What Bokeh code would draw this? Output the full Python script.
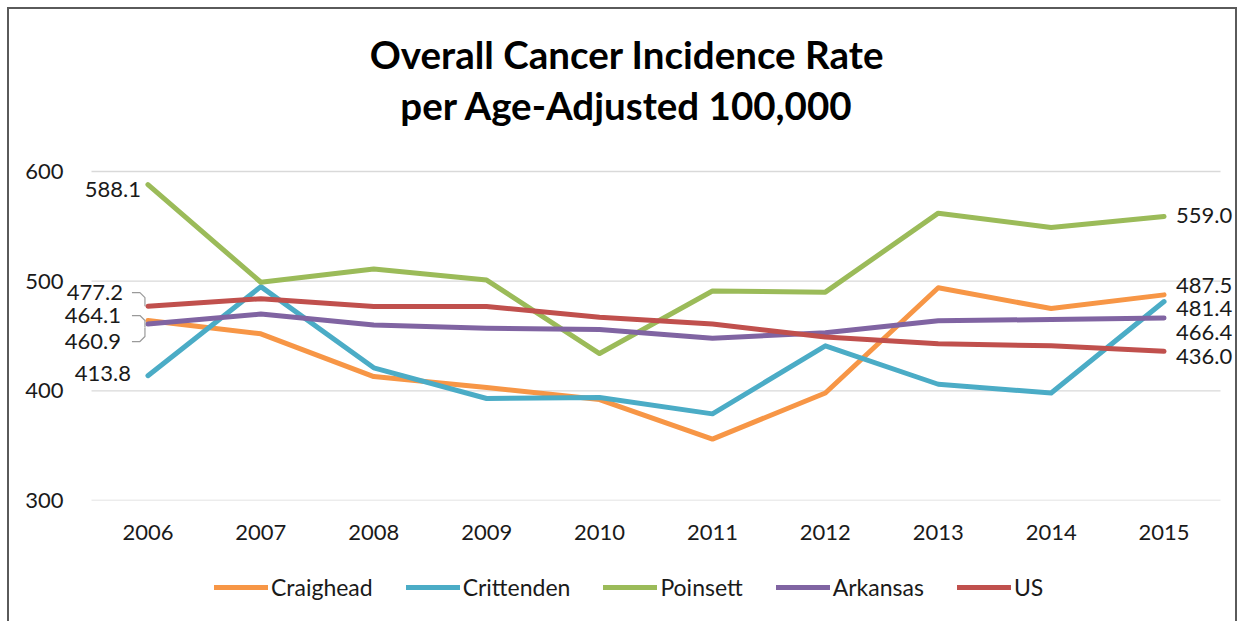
from bokeh.plotting import figure
from bokeh.layouts import column
from bokeh.models import Range1d, FixedTicker, Legend, LegendItem, ColumnDataSource
from bokeh.embed import file_html
from bokeh.resources import INLINE
from bokeh.core.properties import value

# ---- data ----
years = [2006, 2007, 2008, 2009, 2010, 2011, 2012, 2013, 2014, 2015]
craighead = [464.1, 452, 413, 403, 392, 356, 398, 494, 475, 487.5]
crittenden = [413.8, 495, 421, 393, 394, 379, 441, 406, 398, 481.4]
poinsett = [588.1, 499, 511, 501, 434, 491, 490, 562, 549, 559.0]
arkansas = [460.9, 470, 460, 457, 456, 448, 453, 464, 465, 466.4]
us = [477.2, 484, 477, 477, 467, 461, 449, 443, 441, 436.0]
series_names = ["Craighead", "Crittenden", "Poinsett", "Arkansas", "US"]
y_ticks = [300, 400, 500, 600]
title_lines = ["Overall Cancer Incidence Rate", "per Age-Adjusted 100,000"]

# ---- styles / geometry (pixels) ----
colors = ["#F79646", "#4BACC6", "#9BBB59", "#8064A2", "#C0504D"]
FONT = "Lato"
TXT = "#1a1a1a"
BORDER = "2px solid #5a5a5a"
W = 1230
H1, H2 = 545, 69            # chart part, legend strip
ML, MR, MB = 54, 4, 54      # y-axis panel, right edge, x-axis panel
PLOT_W, PLOT_H = 1129, 329  # plot area (gridline extent)
PAD_L, PAD_R, PAD_T = 28, 15, 162
xa, xb = years[0] - 0.5, years[-1] + 0.5
ppx = PLOT_W / (xb - xa)
ppy = PLOT_H / (y_ticks[-1] - y_ticks[0])
x_range = Range1d(xa - PAD_L / ppx, xb + PAD_R / ppx)
y_range = Range1d(y_ticks[0], y_ticks[-1] + PAD_T / ppy)

p = figure(width=W, height=H1, x_range=x_range, y_range=y_range, title=None,
           output_backend="svg", toolbar_location=None,
           min_border_left=ML, min_border_right=MR, min_border_top=0, min_border_bottom=MB,
           styles={"margin-left": "7px", "margin-top": "7px",
                   "border-top": BORDER, "border-left": BORDER, "border-right": BORDER})
p.outline_line_color = None
p.background_fill_color = "white"
p.border_fill_color = "white"
p.xgrid.visible = False
p.ygrid.visible = False

p.xaxis.ticker = FixedTicker(ticks=years)
p.yaxis.ticker = FixedTicker(ticks=y_ticks)
for ax in (p.xaxis[0], p.yaxis[0]):
    ax.axis_line_color = None
    ax.major_tick_line_color = None
    ax.minor_tick_line_color = None
    ax.major_tick_in = 0
    ax.major_tick_out = 0
    ax.major_label_text_font = FONT
    ax.major_label_text_font_size = "22px"
    ax.major_label_text_color = TXT
p.xaxis.major_label_standoff = 24
p.yaxis.major_label_standoff = 0

# horizontal gridlines over the plot area only
p.segment(x0=[xa] * len(y_ticks), y0=y_ticks, x1=[xb] * len(y_ticks), y1=y_ticks,
          line_color="#D9D9D9", line_width=1.3)

all_series = [craighead, crittenden, poinsett, arkansas, us]
for vals, c in zip(all_series, colors):
    p.line(years, vals, line_color=c, line_width=5, line_cap="round", line_join="round")

# ---- end value labels ----
left_off = [(-27, -5), (-17, -2), (-7, 5), (-27, 17), (-25, -14)]
right_off = [(12, -9), (12, 7), (12, -1), (12, 14), (12, 5)]
left_src = ColumnDataSource(dict(
    x=[years[0]] * 5, y=[s[0] for s in all_series],
    t=["%.1f" % s[0] for s in all_series],
    dx=[o[0] for o in left_off], dy=[o[1] for o in left_off]))
right_src = ColumnDataSource(dict(
    x=[years[-1]] * 5, y=[s[-1] for s in all_series],
    t=["%.1f" % s[-1] for s in all_series],
    dx=[o[0] for o in right_off], dy=[o[1] for o in right_off]))
for src, al in ((left_src, "right"), (right_src, "left")):
    p.text(x="x", y="y", text="t", x_offset="dx", y_offset="dy", source=src,
           text_align=al, text_baseline="middle", text_font=value(FONT),
           text_font_size="22px", text_color=TXT)

# ---- leader lines (pixel offsets from the labelled points) ----
leaders = {
    4: [(-16, -13.5), (-8, -13.5), (-3, -8.5), (-3, 0)],
    0: [(-16, -5), (-8, -5), (-3, 0), (-3, 7)],
    3: [(-16, 17.5), (-8, 17.5), (-3, 12.5), (-3, 3.7)],
}
xs, ys = [], []
for i, pts in leaders.items():
    xs.append([years[0] + dx / ppx for dx, dy in pts])
    ys.append([all_series[i][0] - dy / ppy for dx, dy in pts])
p.multi_line(xs, ys, line_color="#9a9a9a", line_width=1.2)

# ---- title (two lines, pixel offsets from the top of the frame) ----
p.text(x=[(xa + xb) / 2] * 2, y=[y_range.end] * 2, text=title_lines,
       x_offset=-29, y_offset=[44.5, 95],
       text_align="center", text_baseline="middle", text_font=value(FONT),
       text_font_style="bold", text_font_size="38.5px", text_color="#000000")

# ---- legend strip ----
p2 = figure(width=W, height=H2, x_range=Range1d(0, 1), y_range=Range1d(0, 1), title=None,
            output_backend="svg", toolbar_location=None,
            x_axis_type=None, y_axis_type=None,
            min_border_left=0, min_border_right=0, min_border_top=0, min_border_bottom=0,
            styles={"margin-left": "7px", "border-left": BORDER, "border-right": BORDER})
p2.outline_line_color = None
p2.xgrid.visible = False
p2.ygrid.visible = False
# legend keys: lines kept outside the visible range
leg_renderers = [p2.line(x=[-3, -2], y=[-3, -2], line_color=c, line_width=5, line_cap="round")
                 for c in colors]
legend = Legend(items=[LegendItem(label=n, renderers=[r]) for n, r in zip(series_names, leg_renderers)],
                orientation="horizontal", location=(151, 20),
                glyph_width=54, glyph_height=22, label_height=22, label_standoff=3,
                spacing=33, padding=0, margin=0,
                border_line_alpha=0, background_fill_alpha=0,
                label_text_font=FONT, label_text_font_size="23px", label_text_color=TXT)
p2.add_layout(legend, "center")

layout = column(p, p2, spacing=0)
open("out.html", "w").write(file_html(layout, INLINE))
